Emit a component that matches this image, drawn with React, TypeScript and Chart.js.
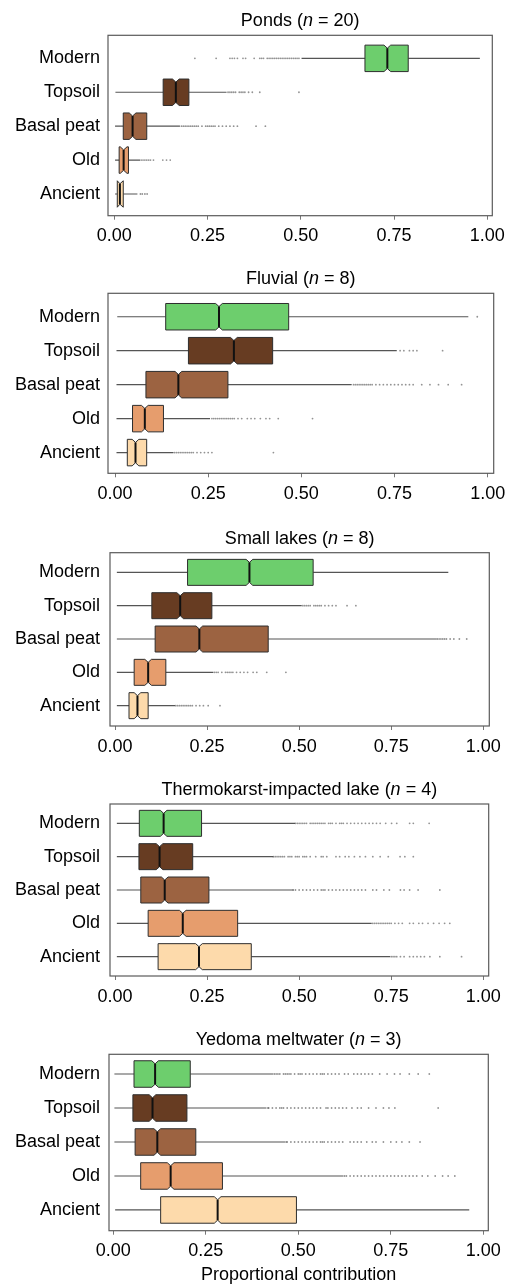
import React, { useEffect, useRef } from 'react';
import { Chart, registerables } from 'chart.js';

Chart.register(...registerables);

// ---------- data ----------
const categories = ['Modern', 'Topsoil', 'Basal peat', 'Old', 'Ancient'];
const panelTitles = ['Ponds', 'Fluvial', 'Small lakes', 'Thermokarst-impacted lake', 'Yedoma meltwater'];
const panelN = [20, 8, 8, 4, 3];
const xTicks = [0, 0.25, 0.5, 0.75, 1];
const xTickLabels = ['0.00', '0.25', '0.50', '0.75', '1.00'];
const xAxisTitle = 'Proportional contribution';

// [whisker min, q1, median, q3, whisker max] per category
const pondsStats = [
  [0.502, 0.672, 0.732, 0.788, 0.98],
  [0.003, 0.131, 0.165, 0.2, 0.301],
  [0.002, 0.024, 0.049, 0.087, 0.176],
  [0.002, 0.013, 0.025, 0.038, 0.069],
  [0.002, 0.008, 0.015, 0.024, 0.062],
];
const fluvialStats = [
  [0.006, 0.136, 0.279, 0.466, 0.948],
  [0.004, 0.197, 0.319, 0.423, 0.756],
  [0.004, 0.083, 0.17, 0.303, 0.635],
  [0.004, 0.047, 0.08, 0.13, 0.255],
  [0.004, 0.033, 0.055, 0.085, 0.157],
];
const smallLakesStats = [
  [0.005, 0.197, 0.365, 0.538, 0.905],
  [0.005, 0.1, 0.177, 0.263, 0.507],
  [0.005, 0.109, 0.229, 0.416, 0.873],
  [0.005, 0.052, 0.09, 0.138, 0.267],
  [0.005, 0.038, 0.061, 0.09, 0.163],
];
const thermokarstStats = [
  [0.005, 0.066, 0.132, 0.235, 0.489],
  [0.005, 0.065, 0.121, 0.211, 0.43],
  [0.005, 0.07, 0.135, 0.255, 0.484],
  [0.005, 0.09, 0.184, 0.333, 0.697],
  [0.005, 0.117, 0.228, 0.37, 0.747],
];
const yedomaStats = [
  [0.003, 0.056, 0.113, 0.208, 0.432],
  [0.003, 0.053, 0.106, 0.199, 0.414],
  [0.003, 0.059, 0.119, 0.223, 0.464],
  [0.003, 0.074, 0.155, 0.295, 0.622],
  [0.005, 0.128, 0.282, 0.495, 0.962],
];

// outlying values per category
const pondsOutliers = [
  [0.216, 0.273, 0.31, 0.316, 0.322, 0.33, 0.345, 0.352, 0.375, 0.39, 0.395, 0.4, 0.41, 0.415, 0.42, 0.425, 0.43, 0.435, 0.44, 0.445, 0.45, 0.455, 0.46, 0.465, 0.47, 0.475, 0.48, 0.485, 0.49, 0.495],
  [0.305, 0.31, 0.315, 0.32, 0.325, 0.335, 0.34, 0.345, 0.35, 0.36, 0.37, 0.39, 0.495],
  [0.18, 0.185, 0.19, 0.195, 0.2, 0.205, 0.21, 0.215, 0.22, 0.225, 0.235, 0.245, 0.25, 0.255, 0.26, 0.265, 0.27, 0.28, 0.29, 0.3, 0.31, 0.32, 0.33, 0.38, 0.405],
  [0.072, 0.077, 0.082, 0.087, 0.092, 0.097, 0.105, 0.13, 0.14, 0.15],
  [0.07, 0.075, 0.082, 0.088],
];
const fluvialOutliers = [
  [0.972],
  [0.765, 0.775, 0.79, 0.8, 0.81, 0.879],
  [0.64, 0.645, 0.65, 0.655, 0.66, 0.665, 0.67, 0.675, 0.68, 0.685, 0.69, 0.7, 0.71, 0.72, 0.73, 0.74, 0.75, 0.76, 0.77, 0.78, 0.79, 0.8, 0.823, 0.845, 0.868, 0.894, 0.93],
  [0.26, 0.265, 0.27, 0.275, 0.28, 0.285, 0.29, 0.295, 0.3, 0.305, 0.31, 0.315, 0.32, 0.33, 0.34, 0.355, 0.365, 0.375, 0.39, 0.405, 0.415, 0.438, 0.53],
  [0.16, 0.165, 0.17, 0.175, 0.18, 0.185, 0.19, 0.195, 0.2, 0.205, 0.21, 0.22, 0.23, 0.24, 0.25, 0.26, 0.425],
];
const smallLakesOutliers = [
  [],
  [0.51, 0.515, 0.52, 0.525, 0.53, 0.54, 0.545, 0.55, 0.555, 0.56, 0.57, 0.58, 0.59, 0.6, 0.63, 0.654],
  [0.875, 0.88, 0.885, 0.89, 0.895, 0.9, 0.91, 0.92, 0.935, 0.955],
  [0.27, 0.275, 0.28, 0.29, 0.3, 0.305, 0.31, 0.315, 0.32, 0.33, 0.34, 0.35, 0.36, 0.375, 0.385, 0.412, 0.464],
  [0.165, 0.17, 0.175, 0.18, 0.185, 0.19, 0.195, 0.2, 0.205, 0.21, 0.22, 0.23, 0.24, 0.253, 0.285],
];
const thermokarstOutliers = [
  [0.49, 0.495, 0.5, 0.505, 0.51, 0.515, 0.52, 0.53, 0.535, 0.54, 0.545, 0.55, 0.555, 0.56, 0.565, 0.57, 0.58, 0.585, 0.59, 0.6, 0.61, 0.615, 0.62, 0.63, 0.64, 0.65, 0.66, 0.67, 0.68, 0.69, 0.7, 0.71, 0.72, 0.735, 0.751, 0.765, 0.8, 0.81, 0.853],
  [0.43, 0.435, 0.44, 0.445, 0.45, 0.455, 0.46, 0.47, 0.475, 0.48, 0.49, 0.495, 0.5, 0.51, 0.515, 0.52, 0.53, 0.545, 0.56, 0.565, 0.575, 0.6, 0.61, 0.625, 0.635, 0.65, 0.665, 0.68, 0.7, 0.72, 0.742, 0.774, 0.787, 0.81],
  [0.484, 0.49, 0.5, 0.51, 0.52, 0.53, 0.54, 0.55, 0.56, 0.565, 0.57, 0.58, 0.59, 0.6, 0.61, 0.62, 0.63, 0.64, 0.65, 0.66, 0.67, 0.68, 0.7, 0.71, 0.73, 0.745, 0.775, 0.785, 0.8, 0.823, 0.882],
  [0.7, 0.705, 0.71, 0.715, 0.72, 0.725, 0.73, 0.735, 0.74, 0.745, 0.75, 0.76, 0.77, 0.78, 0.8, 0.81, 0.825, 0.835, 0.85, 0.865, 0.88, 0.895, 0.909],
  [0.75, 0.755, 0.76, 0.765, 0.775, 0.785, 0.8, 0.81, 0.82, 0.83, 0.84, 0.855, 0.882, 0.941],
];
const yedomaOutliers = [
  [0.435, 0.44, 0.445, 0.45, 0.46, 0.465, 0.47, 0.475, 0.48, 0.49, 0.5, 0.505, 0.51, 0.52, 0.53, 0.54, 0.55, 0.56, 0.565, 0.57, 0.58, 0.59, 0.6, 0.61, 0.625, 0.635, 0.65, 0.66, 0.67, 0.68, 0.69, 0.7, 0.72, 0.74, 0.76, 0.775, 0.8, 0.824, 0.854],
  [0.418, 0.42, 0.43, 0.44, 0.45, 0.455, 0.46, 0.47, 0.48, 0.49, 0.5, 0.51, 0.52, 0.53, 0.54, 0.55, 0.56, 0.575, 0.58, 0.59, 0.6, 0.61, 0.62, 0.63, 0.645, 0.66, 0.67, 0.69, 0.71, 0.73, 0.745, 0.761, 0.878],
  [0.467, 0.47, 0.48, 0.49, 0.5, 0.51, 0.52, 0.53, 0.54, 0.55, 0.56, 0.565, 0.57, 0.58, 0.59, 0.6, 0.61, 0.62, 0.64, 0.65, 0.66, 0.67, 0.685, 0.7, 0.71, 0.73, 0.75, 0.765, 0.78, 0.8, 0.829],
  [0.625, 0.63, 0.64, 0.65, 0.66, 0.67, 0.68, 0.69, 0.7, 0.71, 0.72, 0.73, 0.74, 0.75, 0.76, 0.77, 0.78, 0.79, 0.8, 0.81, 0.82, 0.835, 0.85, 0.87, 0.89, 0.905, 0.923],
  [],
];

const allStats = [pondsStats, fluvialStats, smallLakesStats, thermokarstStats, yedomaStats];
const allOutliers = [pondsOutliers, fluvialOutliers, smallLakesOutliers, thermokarstOutliers, yedomaOutliers];

// ---------- styles / layout ----------
const boxColors = ['#6dce6d', '#673c22', '#9c6341', '#e69d6d', '#fddaab'];
const FONT = "'Liberation Sans', Arial, Helvetica, sans-serif";
const W = 506;
const panelLayout = [
  { top: 0, h: 262, ft: 35.3, fb: 215.7, fl: 108, fr: 492.3, xmin: -0.0169, xmax: 1.0134, ymin: -0.68, ymax: 4.64 },
  { top: 262, h: 250, ft: 31.3, fb: 211.3, fl: 108, fr: 493.7, xmin: -0.0188, xmax: 1.0161, ymin: -0.69, ymax: 4.61 },
  { top: 512, h: 250, ft: 40.7, fb: 214, fl: 110, fr: 489.3, xmin: -0.0136, xmax: 1.0163, ymin: -0.59, ymax: 4.61 },
  { top: 762, h: 250, ft: 42, fb: 214, fl: 110, fr: 488.7, xmin: -0.0136, xmax: 1.0147, ymin: -0.58, ymax: 4.58 },
  { top: 1012, h: 272, ft: 42.3, fb: 218.7, fl: 109, fr: 488.3, xmin: -0.0116, xmax: 1.0135, ymin: -0.58, ymax: 4.61 },
];
const BOX_HALF = 0.39; // in category units
const NOTCH_HALF = 0.009; // in data units
const NOTCH_DEPTH = 0.09; // in category units

function Panel({ idx }: { idx: number }) {
  const ref = useRef<HTMLCanvasElement | null>(null);
  const L = panelLayout[idx];
  useEffect(() => {
    if (!ref.current) return;
    const stats = allStats[idx];
    const outl = allOutliers[idx];
    const isLast = idx === panelLayout.length - 1;

    const boxPlugin = {
      id: 'boxes' + idx,
      beforeDatasetsDraw(chart: any) {
        const ctx = chart.ctx;
        const xs = chart.scales.x;
        const ys = chart.scales.y;
        ctx.save();
        stats.forEach((s: number[], i: number) => {
          const [mn, q1, md, q3, mx] = s;
          const yc = ys.getPixelForValue(i);
          const yt = ys.getPixelForValue(i - BOX_HALF);
          const yb = ys.getPixelForValue(i + BOX_HALF);
          const yti = ys.getPixelForValue(i - BOX_HALF + NOTCH_DEPTH);
          const ybi = ys.getPixelForValue(i + BOX_HALF - NOTCH_DEPTH);
          // whiskers
          ctx.strokeStyle = '#555';
          ctx.lineWidth = 1.2;
          ctx.beginPath();
          ctx.moveTo(xs.getPixelForValue(mn), yc);
          ctx.lineTo(xs.getPixelForValue(q1), yc);
          ctx.moveTo(xs.getPixelForValue(q3), yc);
          ctx.lineTo(xs.getPixelForValue(mx), yc);
          ctx.stroke();
          // notched box
          const nl = Math.min(NOTCH_HALF, md - q1);
          const nr = Math.min(NOTCH_HALF, q3 - md);
          const px1 = xs.getPixelForValue(q1);
          const px3 = xs.getPixelForValue(q3);
          const pm = xs.getPixelForValue(md);
          const pml = xs.getPixelForValue(md - nl);
          const pmr = xs.getPixelForValue(md + nr);
          ctx.beginPath();
          ctx.moveTo(px1, yt);
          ctx.lineTo(pml, yt);
          ctx.lineTo(pm, yti);
          ctx.lineTo(pmr, yt);
          ctx.lineTo(px3, yt);
          ctx.lineTo(px3, yb);
          ctx.lineTo(pmr, yb);
          ctx.lineTo(pm, ybi);
          ctx.lineTo(pml, yb);
          ctx.lineTo(px1, yb);
          ctx.closePath();
          ctx.fillStyle = boxColors[i];
          ctx.fill();
          ctx.strokeStyle = '#2e2e2e';
          ctx.lineWidth = 1;
          ctx.stroke();
          // median
          ctx.strokeStyle = '#111';
          ctx.lineWidth = 2;
          ctx.beginPath();
          ctx.moveTo(pm, yti);
          ctx.lineTo(pm, ybi);
          ctx.stroke();
        });
        ctx.restore();
      },
      afterDraw(chart: any) {
        const ctx = chart.ctx;
        const a = chart.chartArea;
        ctx.save();
        // frame
        ctx.strokeStyle = '#5a5a5a';
        ctx.lineWidth = 1.2;
        ctx.strokeRect(a.left, a.top, a.right - a.left, a.bottom - a.top);
        // title with italic n
        const parts = [
          { t: panelTitles[idx] + ' (', f: `18px ${FONT}` },
          { t: 'n', f: `italic 18px ${FONT}` },
          { t: ' = ' + panelN[idx] + ')', f: `18px ${FONT}` },
        ];
        let total = 0;
        parts.forEach((p) => {
          ctx.font = p.f;
          total += ctx.measureText(p.t).width;
        });
        let x = (a.left + a.right) / 2 - total / 2;
        const y = a.top - 14;
        ctx.fillStyle = '#000';
        ctx.textBaseline = 'middle';
        ctx.textAlign = 'left';
        parts.forEach((p) => {
          ctx.font = p.f;
          ctx.fillText(p.t, x, y);
          x += ctx.measureText(p.t).width;
        });
        ctx.restore();
      },
    };

    const points: { x: number; y: number }[] = [];
    outl.forEach((arr: number[], i: number) => arr.forEach((v) => points.push({ x: v, y: i })));

    const chart = new Chart(ref.current, {
      type: 'scatter',
      data: {
        datasets: [
          {
            data: points,
            pointRadius: 0.9,
            pointHoverRadius: 0.9,
            pointBorderWidth: 0,
            backgroundColor: 'rgba(80,80,80,0.62)',
            borderColor: 'rgba(80,80,80,0.62)',
          },
        ],
      },
      options: {
        responsive: false,
        animation: false,
        events: [],
        layout: { padding: { top: L.ft, left: 0, right: W - L.fr, bottom: 0 } },
        plugins: { legend: { display: false }, tooltip: { enabled: false }, title: { display: false } },
        scales: {
          x: {
            type: 'linear',
            position: 'bottom',
            min: L.xmin,
            max: L.xmax,
            afterFit: (s: any) => {
              s.height = L.h - L.fb;
              s.paddingLeft = 0;
              s.paddingRight = 0;
            },
            afterBuildTicks: (s: any) => {
              s.ticks = xTicks.map((v) => ({ value: v }));
            },
            ticks: {
              autoSkip: false,
              maxRotation: 0,
              padding: 6,
              color: '#000',
              font: { family: FONT, size: 18 },
              callback: (_v: any, i: number) => xTickLabels[i],
            },
            grid: { display: true, drawOnChartArea: false, drawTicks: true, tickLength: 4, color: '#777', lineWidth: 1 },
            border: { display: false },
            title: {
              display: isLast,
              text: xAxisTitle,
              color: '#000',
              font: { family: FONT, size: 18, lineHeight: 1 },
              padding: { top: 0, bottom: 0 },
            },
          },
          y: {
            type: 'linear',
            position: 'left',
            reverse: true,
            min: L.ymin,
            max: L.ymax,
            afterFit: (s: any) => {
              s.width = L.fl;
              s.paddingTop = 0;
              s.paddingBottom = 0;
            },
            afterBuildTicks: (s: any) => {
              s.ticks = categories.map((_c, i) => ({ value: i }));
            },
            ticks: {
              autoSkip: false,
              padding: L.fl - 100,
              color: '#000',
              font: { family: FONT, size: 18 },
              callback: (v: any) => categories[Math.round(Number(v))],
            },
            grid: { display: false, drawTicks: false },
            border: { display: false },
          },
        },
      } as any,
      plugins: [boxPlugin as any],
    });
    return () => chart.destroy();
  }, [idx]);

  return (
    <canvas
      ref={ref}
      width={W}
      height={L.h}
      style={{ position: 'absolute', left: 0, top: L.top, width: W, height: L.h, display: 'block' }}
    />
  );
}

export default function App() {
  return (
    <div style={{ position: 'absolute', left: 0, top: 0, width: W, height: 1284, background: '#fff' }}>
      {panelLayout.map((_p, i) => (
        <Panel key={i} idx={i} />
      ))}
    </div>
  );
}
